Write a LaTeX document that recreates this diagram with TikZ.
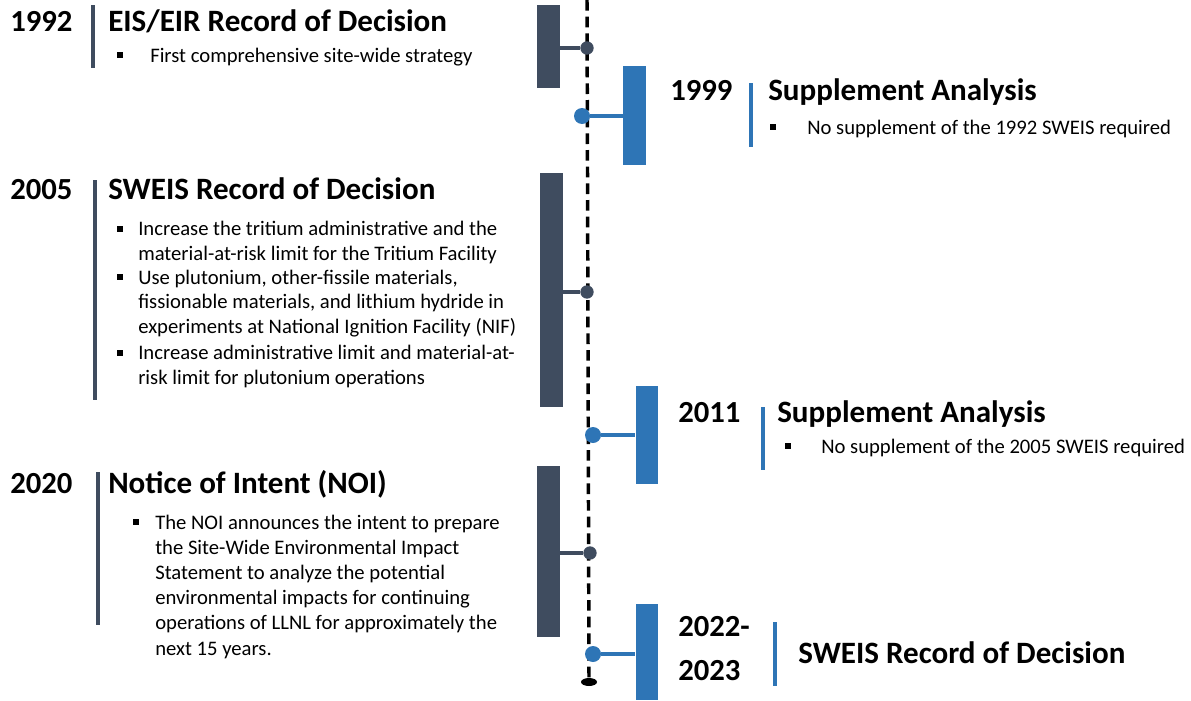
\documentclass[tikz,border=0pt]{standalone}
\usepackage{fontspec}
\usetikzlibrary{shapes.geometric}
\setmainfont{Carlito}
\definecolor{slate}{HTML}{3F4C5F}
\definecolor{steel}{HTML}{2E75B6}
\begin{document}
\begin{tikzpicture}[x=0.75pt,y=-0.75pt,
  yearlbl/.style={anchor=base west,inner sep=0pt,font=\bfseries\fontsize{23}{26}\selectfont},
  titlelbl/.style={anchor=base west,inner sep=0pt,font=\bfseries\fontsize{23.3}{26}\selectfont},
  itemlbl/.style={anchor=base west,inner sep=0pt,align=left,font=\fontsize{15.5}{18.3}\selectfont},
  bulletbox/.style={fill=black,minimum size=4.6pt,inner sep=0pt},
  darkbar/.style={fill=slate,draw=none},
  bluebar/.style={fill=steel,draw=none},
  darkstem/.style={draw=slate,line width=3.6pt},
  bluestem/.style={draw=steel,line width=3.6pt},
  darkdot/.style={circle,fill=slate,minimum size=10pt,inner sep=0pt},
  bluedot/.style={circle,fill=steel,minimum size=12pt,inner sep=0pt},
  darkrule/.style={draw=slate,line width=3pt},
  bluerule/.style={draw=steel,line width=3pt}]
\useasboundingbox (0,0) rectangle (1191,700);

% central dashed time axis
\coordinate (axtop) at (587,0);
\node[ellipse,fill=black,minimum width=12pt,minimum height=6pt,inner sep=0pt] (axend) at (589,682) {};
\draw[line width=2.6pt,dash pattern=on 8pt off 4.5pt] (axtop) -- (axend.center);

% markers: bars with a stem to the axis
\node[darkbar,minimum width=17.3pt,minimum height=62pt,inner sep=0pt] (b1) at (548.5,46.5) {};
\node[darkdot] (d1) at (587,48) {};
\draw[darkstem] (b1.east |- d1) -- (d1);

\node[bluebar,minimum width=17.3pt,minimum height=74pt,inner sep=0pt] (b2) at (634.5,115.5) {};
\node[bluedot] (d2) at (582,116) {};
\draw[bluestem] (d2) -- (b2.west |- d2);

\node[darkbar,minimum width=17.3pt,minimum height=175pt,inner sep=0pt] (b3) at (551.5,290) {};
\node[darkdot] (d3) at (587,292) {};
\draw[darkstem] (b3.east |- d3) -- (d3);

\node[bluebar,minimum width=17pt,minimum height=73.5pt,inner sep=0pt] (b4) at (647,435) {};
\node[bluedot] (d4) at (593,435) {};
\draw[bluestem] (d4) -- (b4.west |- d4);

\node[darkbar,minimum width=17.3pt,minimum height=128pt,inner sep=0pt] (b5) at (548.5,551.5) {};
\node[darkdot] (d5) at (590,553) {};
\draw[darkstem] (b5.east |- d5) -- (d5);

\node[bluebar,minimum width=17pt,minimum height=72pt,inner sep=0pt] (b6) at (647,652) {};
\node[bluedot] (d6) at (593,654) {};
\draw[bluestem] (d6) -- (b6.west |- d6);

% 1992
\node[yearlbl] (y1) at (10,31) {1992};
\coordinate (r1a) at (93,5); \coordinate (r1b) at (93,68);
\draw[darkrule] (r1a) -- (r1b);
\node[titlelbl] (t1) at (108,31) {EIS/EIR Record of Decision};
\node[bulletbox] (s1) at (120,55) {};
\node[itemlbl] (i1) at (150,62) {First comprehensive site-wide strategy};

% 1999
\node[yearlbl] (y2) at (670,100) {1999};
\coordinate (r2a) at (751,83); \coordinate (r2b) at (751,147);
\draw[bluerule] (r2a) -- (r2b);
\node[titlelbl] (t2) at (768,100) {Supplement Analysis};
\node[bulletbox] (s2) at (773,127) {};
\node[itemlbl] (i2) at (807,134) {No supplement of the 1992 SWEIS required};

% 2005 (multi-line items are placed by the baseline of their last line)
\node[yearlbl] (y3) at (10,199) {2005};
\coordinate (r3a) at (95,180); \coordinate (r3b) at (95,400);
\draw[darkrule] (r3a) -- (r3b);
\node[titlelbl] (t3) at (108,199) {SWEIS Record of Decision};
\node[bulletbox] (s3a) at (120,229) {};
\node[itemlbl] (i3a) at (138,260) {Increase the tritium administrative and the\\material-at-risk limit for the Tritium Facility};
\node[bulletbox] (s3b) at (120,277) {};
\node[itemlbl] (i3b) at (138,333) {Use plutonium, other-fissile materials,\\fissionable materials, and lithium hydride in\\experiments at National Ignition Facility (NIF)};
\node[bulletbox] (s3c) at (120,353) {};
\node[itemlbl] (i3c) at (138,384) {Increase administrative limit and material-at-\\risk limit for plutonium operations};

% 2011
\node[yearlbl] (y4) at (678,422) {2011};
\coordinate (r4a) at (763,407); \coordinate (r4b) at (763,470);
\draw[bluerule] (r4a) -- (r4b);
\node[titlelbl] (t4) at (777,422) {Supplement Analysis};
\node[bulletbox] (s4) at (788,446) {};
\node[itemlbl] (i4) at (821,453) {No supplement of the 2005 SWEIS required};

% 2020
\node[yearlbl] (y5) at (10,493) {2020};
\coordinate (r5a) at (98,472); \coordinate (r5b) at (98,625);
\draw[darkrule] (r5a) -- (r5b);
\node[titlelbl] (t5) at (108,493) {Notice of Intent (NOI)};
\node[bulletbox] (s5) at (136,522) {};
\node[itemlbl,font=\fontsize{15.5}{18.9}\selectfont] (i5) at (155,655) {The NOI announces the intent to prepare\\the Site-Wide Environmental Impact\\Statement to analyze the potential\\environmental impacts for continuing\\operations of LLNL for approximately the\\next 15 years.};

% 2022-2023
\node[yearlbl,align=left,font=\bfseries\fontsize{23}{32.3}\selectfont] (y6) at (678,680) {2022-\\2023};
\coordinate (r6a) at (775,622); \coordinate (r6b) at (775,686);
\draw[bluerule] (r6a) -- (r6b);
\node[titlelbl] (t6) at (798,663) {SWEIS Record of Decision};
\end{tikzpicture}
\end{document}
